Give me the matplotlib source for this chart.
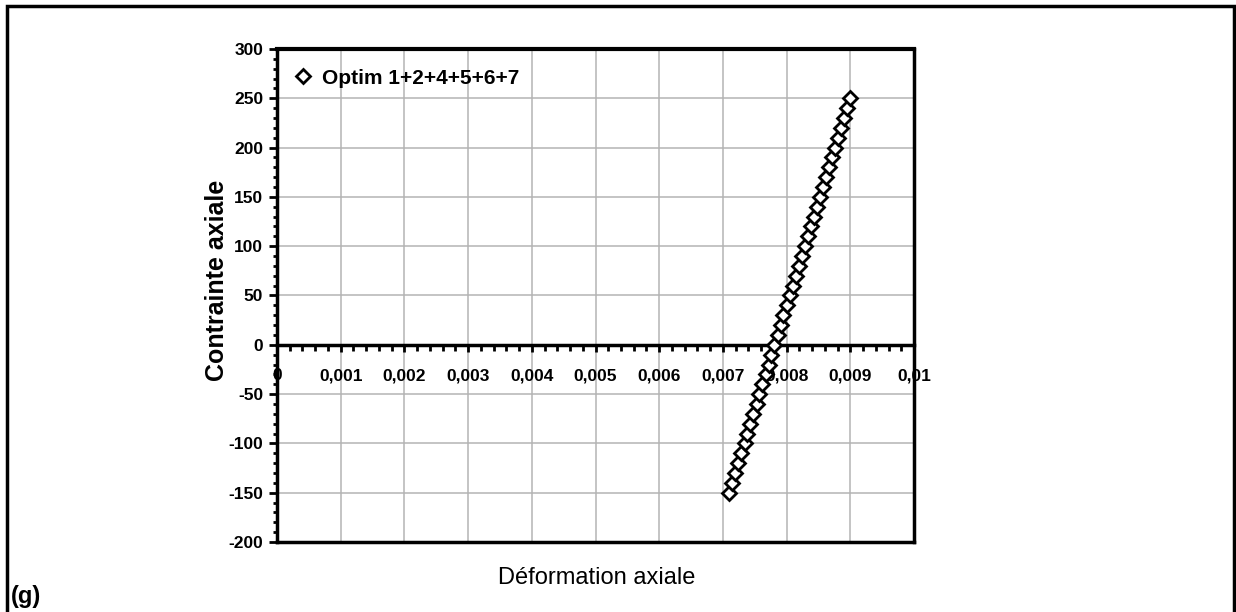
import numpy as np
import matplotlib.pyplot as plt
from matplotlib.patches import Rectangle
from matplotlib.ticker import MultipleLocator, FuncFormatter

plt.rcParams['font.family'] = ['Liberation Sans', 'DejaVu Sans']
plt.rcParams['axes.unicode_minus'] = False

# deformation axiale / contrainte axiale
deformation = [0.00710, 0.00715, 0.00719, 0.00724, 0.00729, 0.00734, 0.00738,
               0.00743, 0.00748, 0.00753, 0.00757, 0.00762, 0.00767, 0.00772,
               0.00776, 0.00781, 0.00786, 0.00791, 0.00795, 0.00800, 0.00805,
               0.00810, 0.00814, 0.00819, 0.00824, 0.00829, 0.00833, 0.00838,
               0.00843, 0.00848, 0.00852, 0.00857, 0.00862, 0.00867, 0.00871,
               0.00876, 0.00881, 0.00886, 0.00890, 0.00895, 0.00900]
contrainte = [-150, -140, -130, -120, -110, -100, -90, -80, -70, -60, -50,
              -40, -30, -20, -10, 0, 10, 20, 30, 40, 50, 60, 70, 80, 90, 100,
              110, 120, 130, 140, 150, 160, 170, 180, 190, 200, 210, 220, 230,
              240, 250]
serie = 'Optim 1+2+4+5+6+7'

fig = plt.figure(figsize=(12.36, 6.12), dpi=100)
ax = fig.add_axes([277/1236, 1 - 542/612, (914 - 277)/1236, (542 - 49)/612])

ax.plot(deformation, contrainte, linestyle='none', marker='D', markersize=7.2,
        markerfacecolor='white', markeredgecolor='black', markeredgewidth=2,
        label=serie, zorder=5, clip_on=False)

ax.set_xlim(0, 0.01)
ax.set_ylim(-200, 300)
ax.xaxis.set_major_locator(MultipleLocator(0.001))
ax.xaxis.set_minor_locator(MultipleLocator(0.0002))
ax.yaxis.set_major_locator(MultipleLocator(50))
ax.yaxis.set_minor_locator(MultipleLocator(10))
ax.xaxis.set_major_formatter(FuncFormatter(lambda v, p: f"{round(v, 4):g}".replace('.', ',')))

ax.grid(True, which='major', color='#b4b4b4', linewidth=1.1, zorder=0)
ax.set_axisbelow(True)

for s in ax.spines.values():
    s.set_linewidth(2.5)
ax.spines['top'].set_linewidth(3)
ax.spines['bottom'].set_position(('data', 0))
ax.spines['bottom'].set_zorder(3)
ax.plot([0, 1], [0, 0], transform=ax.transAxes, color='black', linewidth=2.5,
        clip_on=False, zorder=3)

ax.tick_params(axis='x', which='major', direction='out', length=5, width=2, pad=12,
               labelsize=12.5)
ax.tick_params(axis='x', which='minor', direction='out', length=4, width=2)
ax.tick_params(axis='y', which='major', direction='out', length=6, width=2, pad=4,
               labelsize=12.5)
ax.tick_params(axis='y', which='minor', direction='out', length=3, width=2)
for lab in ax.get_xticklabels() + ax.get_yticklabels():
    lab.set_fontweight('bold')

ax.set_ylabel('Contrainte axiale', fontsize=18, fontweight='bold')
ax.yaxis.set_label_coords(-0.075, 0.53)
fig.text(597/1236, 1 - 578/612, 'Déformation axiale', fontsize=17,
         ha='center', va='center')
fig.text(11/1236, 1 - 597/612, '(g)', fontsize=17, fontweight='bold',
         ha='left', va='center')

ax.legend(loc='upper left', frameon=False, prop={'size': 15, 'weight': 'bold'},
          handletextpad=0.3, borderaxespad=0.35, handlelength=1.2,
          bbox_to_anchor=(-0.003, 0.992))

fig.add_artist(Rectangle((7/1236, -0.02), (1234 - 7)/1236, 1.02 - 6/612,
                         transform=fig.transFigure, fill=False,
                         edgecolor='black', linewidth=2.5))

plt.savefig('out.png', dpi=100)
